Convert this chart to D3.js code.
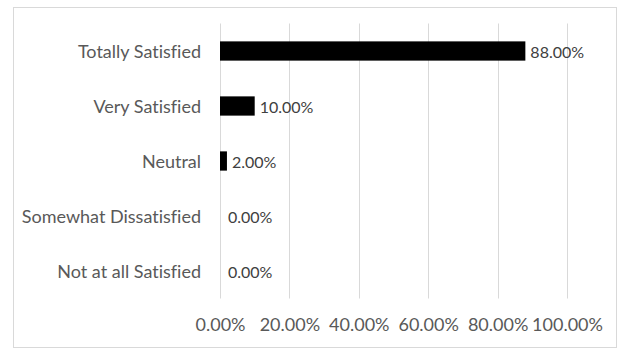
<!DOCTYPE html>
<html>
<head>
<meta charset="utf-8">
<script src="https://cdn.jsdelivr.net/npm/d3@7"></script>
<style>
  body { margin: 0; background: #fff; }
  text { font-family: Lato, "Open Sans", sans-serif; font-variant-ligatures: none; }
</style>
</head>
<body>
<div id="chart"></div>
<script>
var categories = ["Totally Satisfied", "Very Satisfied", "Neutral", "Somewhat Dissatisfied", "Not at all Satisfied"];
var values = [0.88, 0.10, 0.02, 0, 0];
var tickValues = [0, 0.2, 0.4, 0.6, 0.8, 1.0];

var width = 618, height = 348;
var plot = { left: 220, right: 567, top: 23.5, bottom: 298.5 };

var svg = d3.select("#chart").append("svg")
    .attr("width", width)
    .attr("height", height);

// outer chart frame
svg.append("rect")
    .attr("x", 13.5).attr("y", 7.5)
    .attr("width", 603).attr("height", 340)
    .attr("fill", "#fff")
    .attr("stroke", "#d9d9d9");

var x = d3.scaleLinear().domain([0, 1]).range([plot.left, plot.right]);
var y = d3.scaleBand().domain(categories).range([plot.top, plot.bottom]).paddingInner(0.65).paddingOuter(0.325);

var fmt = d3.format(".2%");

// gridlines
svg.append("g").selectAll("line")
    .data(tickValues)
    .enter().append("line")
    .attr("x1", function (d) { return Math.round(x(d)) + 0.5; })
    .attr("x2", function (d) { return Math.round(x(d)) + 0.5; })
    .attr("y1", plot.top).attr("y2", plot.bottom)
    .attr("stroke", "#d9d9d9");

// x axis labels
var xAxis = d3.axisBottom(x).tickValues(tickValues).tickFormat(fmt).tickSize(0).tickPadding(0);
var gx = svg.append("g")
    .attr("transform", "translate(0," + 318 + ")")
    .call(xAxis);
gx.select(".domain").remove();
gx.selectAll("text")
    .attr("fill", "#595959")
    .style("font-size", "18px")
    .attr("dy", "0.71em");

// category labels
var yAxis = d3.axisLeft(y).tickSize(0).tickPadding(19);
var gy = svg.append("g")
    .attr("transform", "translate(" + plot.left + ",1)")
    .call(yAxis);
gy.select(".domain").remove();
gy.selectAll("text")
    .attr("fill", "#595959")
    .style("font-size", "18px");

// bars
svg.append("g").selectAll("rect")
    .data(values)
    .enter().append("rect")
    .attr("x", x(0))
    .attr("y", function (d, i) { return y(categories[i]); })
    .attr("width", function (d) { return x(d) - x(0); })
    .attr("height", y.bandwidth())
    .attr("fill", "#000");

// value labels
svg.append("g").selectAll("text")
    .data(values)
    .enter().append("text")
    .attr("x", function (d) { return x(d) + (d > 0 ? 5 : 8); })
    .attr("y", function (d, i) { return y(categories[i]) + y.bandwidth() / 2 + 1; })
    .attr("dy", "0.35em")
    .attr("fill", "#404040")
    .style("font-size", "16px")
    .text(function (d) { return fmt(d); });
</script>
</body>
</html>
